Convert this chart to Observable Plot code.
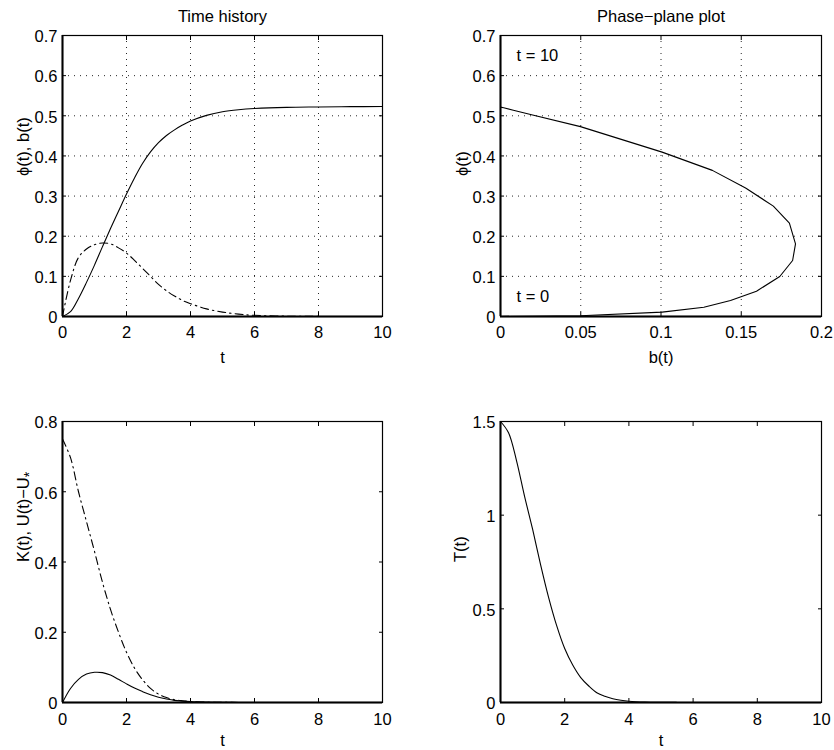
<!DOCTYPE html>
<html><head><meta charset="utf-8">
<script src="https://cdn.jsdelivr.net/npm/d3@7"></script>
<script src="https://cdn.jsdelivr.net/npm/@observablehq/plot@0.6"></script>
<style>
body{margin:0;background:#fff;}
#wrap{position:relative;width:834px;height:750px;overflow:hidden;background:#fff;}
#wrap > svg{position:absolute;}
</style></head><body><div id="wrap"></div>
<script>
// ---- data ----
// time histories
const t   = [0, 0.25, 0.5, 0.75, 1, 1.25, 1.5, 1.75, 2, 2.25, 2.5, 2.75, 3, 3.25, 3.5, 3.75, 4, 4.5, 5, 5.5, 6, 7, 8, 9, 10];
const phi = [0, 0.012, 0.045, 0.085, 0.128, 0.174, 0.219, 0.262, 0.305, 0.345, 0.381, 0.410, 0.433, 0.451, 0.465, 0.477, 0.487, 0.501, 0.510, 0.515, 0.518, 0.521, 0.522, 0.5228, 0.523];
const bv  = [0, 0.090, 0.147, 0.168, 0.179, 0.183, 0.181, 0.171, 0.158, 0.140, 0.120, 0.100, 0.080, 0.064, 0.051, 0.040, 0.032, 0.019, 0.011, 0.006, 0.003, 0.0008, 0.0002, 0.0001, 0];
const Kv  = [0, 0.040, 0.066, 0.081, 0.086, 0.085, 0.078, 0.066, 0.053, 0.041, 0.031, 0.022, 0.015, 0.010, 0.006, 0.004, 0.0025, 0.001, 0.0004, 0.0002, 0.0001, 0, 0, 0, 0];
const Uv  = [0.75, 0.697, 0.600, 0.515, 0.430, 0.342, 0.265, 0.200, 0.143, 0.098, 0.065, 0.040, 0.024, 0.014, 0.008, 0.005, 0.003, 0.001, 0.0004, 0.0002, 0.0001, 0, 0, 0, 0];
const Tv  = [1.5, 1.44, 1.29, 1.10, 0.925, 0.735, 0.56, 0.41, 0.288, 0.20, 0.133, 0.088, 0.052, 0.033, 0.020, 0.012, 0.007, 0.0025, 0.001, 0.0004, 0.0002, 0, 0, 0, 0];

// phase-plane vertices (b, phi) as drawn
const phaseB   = [0, 0.050, 0.1007, 0.1267, 0.1433, 0.1595, 0.174, 0.182, 0.1838, 0.180, 0.170, 0.1527, 0.132, 0.1007, 0.0498, 0.020, 0.008, 0.002, 0];
const phasePhi = [0, 0.0017, 0.011, 0.023, 0.040, 0.063, 0.0997, 0.1395, 0.181, 0.2326, 0.275, 0.320, 0.364, 0.4095, 0.473, 0.502, 0.514, 0.520, 0.5216];

const tTicks      = [0, 2, 4, 6, 8, 10];
const phiTicks    = [0, 0.1, 0.2, 0.3, 0.4, 0.5, 0.6, 0.7];
const bTicks      = [0, 0.05, 0.1, 0.15, 0.2];
const energyTicks = [0, 0.2, 0.4, 0.6, 0.8];
const TTicks      = [0, 0.5, 1, 1.5];

const annotations = [
  {b: 0.01, phi: 0.65, label: "t = 10"},
  {b: 0.01, phi: 0.05, label: "t = 0"}
];

const titles  = ["Time history", "Phase\u2212plane plot"];
const xLabels = ["t", "b(t)", "t", "t"];
const yLabels = ["\u03d5(t), b(t)", "\u03d5(t)", "K(t), U(t)\u2212U", "T(t)"];

// ---- tables ----
const rows  = t.map((tt, i) => ({t: tt, phi: phi[i], b: bv[i], K: Kv[i], U: Uv[i], T: Tv[i]}));
const phase = phaseB.map((b, i) => ({b, phi: phasePhi[i]}));

const FONT = "'Liberation Sans', Arial, Helvetica, sans-serif";
const FS = 16.5;
const DASHDOT = "8,4,1.5,4";
const wrap = document.getElementById("wrap");

function panel(cfg) {
  const {left, top, margin, xDomain, yDomain, xTicks, yTicks, grid, lines, title, xLabel, yLabel, ylDx, extra = [], bottomPad, xlDy} = cfg;
  const fmt = d => String(d);
  const marks = [];
  if (grid) {
    marks.push(Plot.gridX(xTicks.slice(1, -1), {stroke: "#000", strokeOpacity: 0.85, strokeWidth: 1, strokeDasharray: "1,5"}));
    marks.push(Plot.gridY(yTicks.slice(1, -1), {stroke: "#000", strokeOpacity: 0.85, strokeWidth: 1, strokeDasharray: "1,5"}));
  }
  for (const L of lines) {
    marks.push(Plot.line(L.data, {x: L.x, y: L.y, stroke: "#000", strokeWidth: 1.1, curve: L.curve || "catmull-rom", strokeDasharray: L.dash || null}));
  }
  marks.push(...extra);
  marks.push(Plot.frame({stroke: "#000", strokeWidth: 1.2}));
  marks.push(Plot.ruleY([yDomain[0]], {stroke: "#000", strokeWidth: 2}));
  marks.push(Plot.ruleX([xDomain[0]], {stroke: "#000", strokeWidth: 2}));
  // inward ticks on four sides
  marks.push(Plot.axisX(xTicks, {anchor: "bottom", tickSize: 4, dy: -4, fill: "none", label: null}));
  marks.push(Plot.axisX(xTicks, {anchor: "top", tickSize: 4, dy: 4, fill: "none", label: null}));
  marks.push(Plot.axisY(yTicks, {anchor: "left", tickSize: 4, dx: 4, fill: "none", label: null}));
  marks.push(Plot.axisY(yTicks, {anchor: "right", tickSize: 4, dx: -4, fill: "none", label: null}));
  // tick labels
  marks.push(Plot.axisX(xTicks, {anchor: "bottom", tickSize: 0, tickPadding: bottomPad, tickFormat: fmt, label: null, fill: "#000", fontSize: FS}));
  marks.push(Plot.axisY(yTicks, {anchor: "left", tickSize: 0, tickPadding: 5, tickFormat: fmt, label: null, fill: "#000", fontSize: FS, dy: 1.5}));
  // titles and axis labels
  if (title) marks.push(Plot.text([title], {text: d => d, frameAnchor: "top", lineAnchor: "bottom", dy: -14, fill: "#000", fontSize: FS}));
  marks.push(Plot.text([xLabel], {text: d => d, frameAnchor: "bottom", lineAnchor: "bottom", dy: xlDy, fill: "#000", fontSize: FS}));
  marks.push(Plot.text([yLabel], {text: d => d, frameAnchor: "left", rotate: -90, dx: ylDx, fill: "#000", fontSize: FS}));

  const svg = Plot.plot({
    width: 417, height: 375,
    marginLeft: margin[0], marginRight: margin[1], marginTop: margin[2], marginBottom: margin[3],
    style: {fontFamily: FONT, fontSize: FS + "px", background: "#fff", color: "#000", overflow: "visible"},
    x: {domain: xDomain, axis: null},
    y: {domain: yDomain, axis: null},
    marks
  });
  svg.style.left = left + "px";
  svg.style.top = top + "px";
  wrap.appendChild(svg);
  return svg;
}

// Top-left: time history
panel({
  left: 0, top: 0, margin: [62, 35, 35, 59],
  xDomain: [0, 10], yDomain: [0, 0.7], xTicks: tTicks, yTicks: phiTicks, grid: true,
  lines: [{data: rows, x: "t", y: "phi"}, {data: rows, x: "t", y: "b", dash: DASHDOT}],
  title: titles[0], xLabel: xLabels[0], yLabel: yLabels[0], ylDx: -39, bottomPad: 10, xlDy: 46.5
});

// Top-right: phase plane
panel({
  left: 417, top: 0, margin: [83, 13, 35, 59],
  xDomain: [0, 0.2], yDomain: [0, 0.7], xTicks: bTicks, yTicks: phiTicks, grid: true,
  lines: [{data: phase, x: "b", y: "phi", curve: "linear"}],
  extra: [Plot.text(annotations, {x: "b", y: "phi", text: "label", textAnchor: "start", fill: "#000", fontSize: FS})],
  title: titles[1], xLabel: xLabels[1], yLabel: yLabels[1], ylDx: -38, bottomPad: 10, xlDy: 46.5
});

// Bottom-left: energies
const blSvg = panel({
  left: 0, top: 375, margin: [62, 35, 46, 48],
  xDomain: [0, 10], yDomain: [0, 0.8], xTicks: tTicks, yTicks: energyTicks, grid: false,
  lines: [{data: rows, x: "t", y: "K"}, {data: rows, x: "t", y: "U", dash: DASHDOT}],
  xLabel: xLabels[2], yLabel: yLabels[2], ylDx: -39, bottomPad: 11, xlDy: 43.5
});
// subscript * on U
d3.select(blSvg).selectAll("text").filter(function () { return this.textContent === yLabels[2]; })
  .append("tspan").attr("dy", "0.35em").attr("font-size", "0.85em").text("*");

// Bottom-right: T(t)
panel({
  left: 417, top: 375, margin: [83, 13, 46, 48],
  xDomain: [0, 10], yDomain: [0, 1.5], xTicks: tTicks, yTicks: TTicks, grid: false,
  lines: [{data: rows, x: "t", y: "T"}],
  xLabel: xLabels[3], yLabel: yLabels[3], ylDx: -40, bottomPad: 11, xlDy: 43.5
});
</script></body></html>
